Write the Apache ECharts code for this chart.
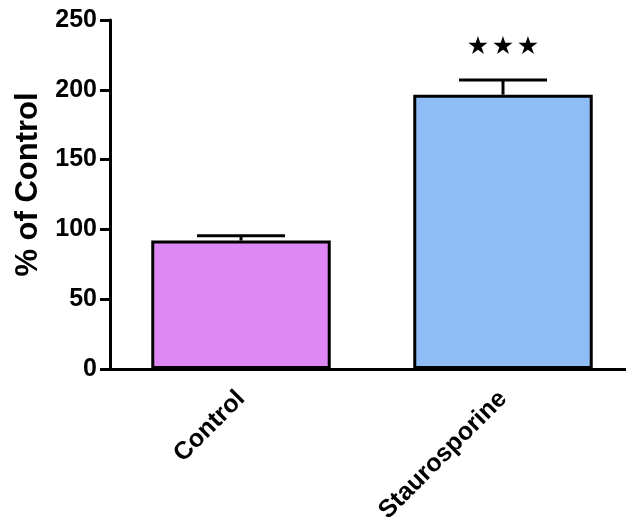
<!DOCTYPE html>
<html>
<head>
<meta charset="utf-8">
<script src="https://cdn.jsdelivr.net/npm/echarts@6/dist/echarts.min.js"></script>
<style>html,body{margin:0;padding:0;background:#fff;}#c{width:626px;height:529px;}</style>
</head>
<body>
<div id="c"></div>
<script>
const categories = ["Control", "Staurosporine"];
const means = [92, 196.5];
const errors = [3.5, 10.5];
const sigStars = [0, 3];
const barColors = ["#DD88F5", "#8FBEF7"];
const yTicks = [0, 50, 100, 150, 200, 250];

const chart = echarts.init(document.getElementById('c'));
const font = 'Liberation Sans, Arial, sans-serif';
chart.setOption({
  animation: false,
  backgroundColor: '#fff',
  grid: { left: 110, right: -8, top: 20, bottom: 160, containLabel: false, outerBoundsMode: 'none' },
  xAxis: {
    type: 'category',
    data: categories,
    axisLine: { lineStyle: { color: '#000', width: 3 } },
    axisTick: { alignWithLabel: true, length: 10, lineStyle: { color: '#000', width: 3 } },
    axisLabel: { rotate: 45, color: '#000', fontWeight: 'bold', fontSize: 25, fontFamily: font, margin: 26 }
  },
  yAxis: {
    type: 'value',
    min: yTicks[0], max: yTicks[yTicks.length - 1], interval: 50,
    name: '% of Control',
    nameLocation: 'middle',
    nameGap: 66,
    nameTextStyle: { color: '#000', fontWeight: 'bold', fontSize: 31, fontFamily: font, padding: [0, 0, 0, 20] },
    axisLine: { show: true, lineStyle: { color: '#000', width: 3 } },
    axisTick: { show: true, length: 10, lineStyle: { color: '#000', width: 3 } },
    splitLine: { show: false },
    axisLabel: { color: '#000', fontWeight: 'bold', fontSize: 25, fontFamily: font, margin: 13 }
  },
  series: [
    {
      type: 'bar',
      barWidth: '68.5%',
      data: means.map((v, i) => ({ value: v, itemStyle: { color: barColors[i] } })),
      itemStyle: { borderColor: '#000', borderWidth: 3 },
      z: 2
    },
    {
      type: 'custom',
      z: 3,
      data: means.map((v, i) => [i, v, errors[i], sigStars[i]]),
      renderItem: function (params, api) {
        const i = api.value(0);
        const v = api.value(1);
        const e = api.value(2);
        const n = api.value(3);
        const base = api.coord([i, v]);
        const top = api.coord([i, v + e]);
        const half = 44;
        const children = [
          { type: 'line', shape: { x1: base[0], y1: base[1], x2: top[0], y2: top[1] }, style: { stroke: '#000', lineWidth: 3 } },
          { type: 'line', shape: { x1: top[0] - half, y1: top[1], x2: top[0] + half, y2: top[1] }, style: { stroke: '#000', lineWidth: 3 } }
        ];
        for (let k = 0; k < n; k++) {
          children.push({
            type: 'text',
            style: { text: '★', x: top[0] + (k - (n - 1) / 2) * 25, y: top[1] - 33, align: 'center', verticalAlign: 'middle', fill: '#000', fontSize: 25, fontFamily: 'DejaVu Sans' }
          });
        }
        return { type: 'group', children: children };
      }
    }
  ]
});
</script>
</body>
</html>
